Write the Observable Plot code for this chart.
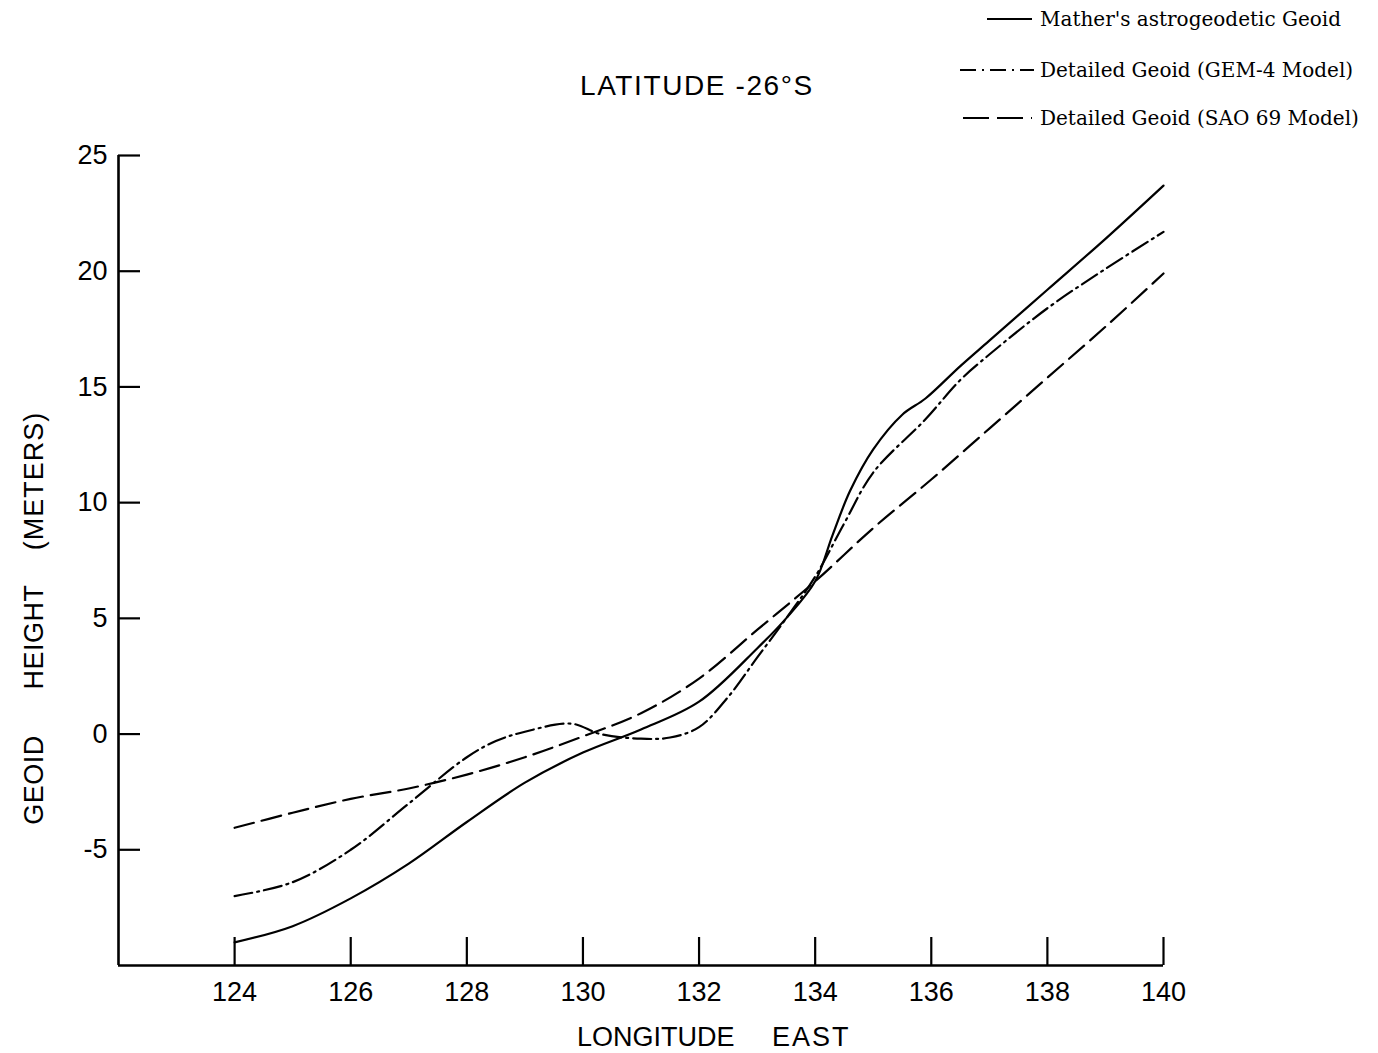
<!DOCTYPE html>
<html>
<head>
<meta charset="utf-8">
<script src="https://cdn.jsdelivr.net/npm/d3@7"></script>
<script src="https://cdn.jsdelivr.net/npm/@observablehq/plot@0.6"></script>
<style>
  html, body { margin: 0; padding: 0; background: #fff; }
  #wrap { position: relative; width: 1378px; height: 1053px; overflow: hidden; }
  .lbl { position: absolute; font-family: "Liberation Sans", Arial, sans-serif; color: #000; white-space: pre; line-height: 1; }
  .leg { position: absolute; font-family: "DejaVu Serif", serif; font-size: 20px; color: #000; white-space: pre; line-height: 1; }
</style>
</head>
<body>
<div id="wrap"></div>
<script>
// ---- data ----
const xTicks = [124, 126, 128, 130, 132, 134, 136, 138, 140];
const yTicks = [-5, 0, 5, 10, 15, 20, 25];

const matherLon = [124, 125, 126, 127, 128, 129, 130, 131, 132, 133, 133.5, 134, 134.3, 134.6, 135, 135.5, 135.9, 136.5, 137, 138, 139, 140];
const matherH   = [-9.0, -8.3, -7.1, -5.6, -3.8, -2.1, -0.8, 0.2, 1.4, 3.7, 5.0, 6.6, 8.6, 10.5, 12.3, 13.8, 14.5, 15.9, 17.0, 19.2, 21.4, 23.7];

const gemLon = [124, 125, 126, 127, 128, 128.5, 129, 129.8, 130.3, 131, 131.5, 132, 132.5, 133, 133.5, 134, 134.5, 135, 135.9, 136.5, 137, 138, 139, 140];
const gemH   = [-7.0, -6.4, -5.0, -3.0, -1.0, -0.3, 0.1, 0.45, 0.0, -0.2, -0.15, 0.3, 1.6, 3.3, 5.0, 6.8, 9.1, 11.3, 13.6, 15.3, 16.4, 18.4, 20.1, 21.7];

const saoLon = [124, 125, 126, 127, 128, 129, 130, 131, 132, 133, 134, 135, 136, 137, 138, 139, 140];
const saoH   = [-4.05, -3.4, -2.8, -2.35, -1.75, -1.0, -0.1, 0.9, 2.4, 4.5, 6.6, 8.9, 11.0, 13.2, 15.4, 17.6, 19.9];

const seriesNames = ["Mather's astrogeodetic Geoid", "Detailed Geoid (GEM-4 Model)", "Detailed Geoid (SAO 69 Model)"];
const dashes = [null, "18,5,2,5", "20,8"];

const titleText = "LATITUDE -26°S";
const xLabelWords = ["LONGITUDE", "EAST"];
const yLabelWords = ["GEOID", "HEIGHT", "(METERS)"];

// ---- build tables ----
const mather = matherLon.map((x, i) => ({lon: x, h: matherH[i]}));
const gem = gemLon.map((x, i) => ({lon: x, h: gemH[i]}));
const sao = saoLon.map((x, i) => ({lon: x, h: saoH[i]}));

const chart = Plot.plot({
  width: 1378,
  height: 1053,
  marginLeft: 118,
  marginRight: 215,
  marginTop: 155,
  marginBottom: 88,
  style: {fontFamily: "Liberation Sans, Arial, sans-serif", fontSize: "27px", color: "#000", background: "#fff"},
  x: {domain: [122, 140]},
  y: {domain: [-10, 25]},
  marks: [
    Plot.axisX(xTicks, {tickSize: -28, strokeWidth: 2.2, text: null, label: null}),
    Plot.axisX(xTicks, {tickSize: 0, tickPadding: 16, label: null, tickFormat: d => String(d), fontSize: 27}),
    Plot.axisY(yTicks, {tickSize: -22, strokeWidth: 2.2, text: null, label: null}),
    Plot.axisY(yTicks, {tickSize: 0, tickPadding: 11, label: null, tickFormat: d => String(d), fontSize: 27}),
    Plot.ruleX([122], {strokeWidth: 2.6}),
    Plot.ruleY([-10], {strokeWidth: 2.6}),
    Plot.line(mather, {x: "lon", y: "h", curve: "catmull-rom", strokeWidth: 2.2, stroke: "#000"}),
    Plot.line(gem, {x: "lon", y: "h", curve: "catmull-rom", strokeWidth: 2.2, stroke: "#000", strokeDasharray: dashes[1]}),
    Plot.line(sao, {x: "lon", y: "h", curve: "catmull-rom", strokeWidth: 2.2, stroke: "#000", strokeDasharray: dashes[2]})
  ]
});

const wrap = document.getElementById("wrap");
chart.style.position = "absolute";
chart.style.left = "0px";
chart.style.top = "0px";
wrap.appendChild(chart);

function addDiv(cls, text, css) {
  const d = document.createElement("div");
  d.className = cls;
  d.textContent = text;
  Object.assign(d.style, css);
  wrap.appendChild(d);
  return d;
}

// title & axis labels
addDiv("lbl", titleText, {left: "580px", top: "72px", fontSize: "28px", letterSpacing: "1.6px"});
addDiv("lbl", xLabelWords[0], {left: "577px", top: "1024px", fontSize: "27px"});
addDiv("lbl", xLabelWords[1], {left: "772px", top: "1024px", fontSize: "27px", letterSpacing: "2px"});
const yCenters = [780, 637, 481];
yLabelWords.forEach((w, i) => {
  addDiv("lbl", w, {left: "34px", top: yCenters[i] + "px", fontSize: "27px", transform: "translate(-50%,-50%) rotate(-90deg)", transformOrigin: "center", letterSpacing: i === 2 ? "1px" : "0.5px"});
});

// legend
const legY = [19, 70, 118];
const swX = [[987, 1032], [960, 1034], [963, 1032]];
seriesNames.forEach((name, i) => {
  const svgNS = "http://www.w3.org/2000/svg";
  const s = document.createElementNS(svgNS, "svg");
  s.setAttribute("width", 80);
  s.setAttribute("height", 10);
  s.style.position = "absolute";
  s.style.left = (swX[i][0]) + "px";
  s.style.top = (legY[i] - 5) + "px";
  const l = document.createElementNS(svgNS, "line");
  l.setAttribute("x1", 0);
  l.setAttribute("x2", swX[i][1] - swX[i][0]);
  l.setAttribute("y1", 5);
  l.setAttribute("y2", 5);
  l.setAttribute("stroke", "#000");
  l.setAttribute("stroke-width", 2);
  if (dashes[i]) l.setAttribute("stroke-dasharray", i === 1 ? "16,6,2,6" : "26,8");
  s.appendChild(l);
  wrap.appendChild(s);
  addDiv("leg", name, {left: "1040px", top: (legY[i] - 10) + "px"});
});
</script>
</body>
</html>
